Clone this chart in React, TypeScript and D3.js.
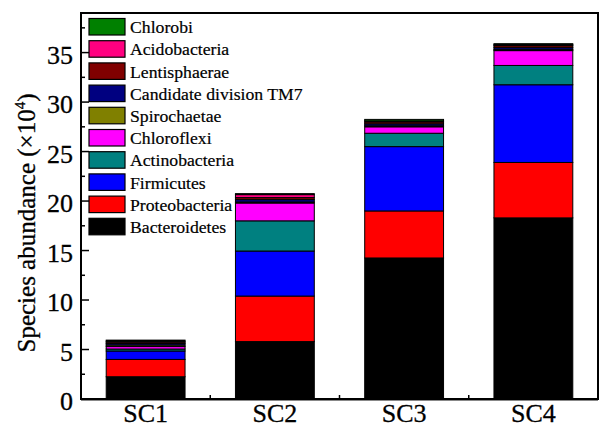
import React from "react";
import * as d3 from "d3";

const categories = ["SC1", "SC2", "SC3", "SC4"];
const seriesNames = [
  "Bacteroidetes",
  "Proteobacteria",
  "Firmicutes",
  "Actinobacteria",
  "Chloroflexi",
  "Spirochaetae",
  "Candidate division TM7",
  "Lentisphaerae",
  "Acidobacteria",
  "Chlorobi",
];
const seriesColors = [
  "#000000",
  "#FF0000",
  "#0000FF",
  "#008080",
  "#FF00FF",
  "#808000",
  "#000080",
  "#800000",
  "#FF0080",
  "#008000",
];
const Bacteroidetes = [2.25, 5.8, 14.25, 18.3];
const Proteobacteria = [1.75, 4.6, 4.75, 5.6];
const Firmicutes = [0.85, 4.55, 6.5, 7.85];
const Actinobacteria = [0.2, 3.05, 1.35, 1.95];
const Chloroflexi = [0.25, 1.8, 0.65, 1.5];
const Spirochaetae = [0.15, 0.1, 0.1, 0.1];
const CandidateTM7 = [0.15, 0.25, 0.2, 0.2];
const Lentisphaerae = [0.15, 0.2, 0.2, 0.2];
const Acidobacteria = [0.1, 0.3, 0.1, 0.1];
const Chlorobi = [0.1, 0.1, 0.15, 0.1];
const seriesValues = [
  Bacteroidetes,
  Proteobacteria,
  Firmicutes,
  Actinobacteria,
  Chloroflexi,
  Spirochaetae,
  CandidateTM7,
  Lentisphaerae,
  Acidobacteria,
  Chlorobi,
];
const yTicks = [0, 5, 10, 15, 20, 25, 30, 35];
const yMinorTicks = [2.5, 7.5, 12.5, 17.5, 22.5, 27.5, 32.5, 37.5];

const W = 600;
const H = 427;
const L = 81;
const R = 598;
const T = 13;
const B = 399;
const FONT = '"Liberation Serif", serif';

export default function App() {
  const x = d3.scaleBand<string>().domain(categories).range([L, R]).paddingInner(0.39).paddingOuter(0.195);
  const y = d3.scaleLinear().domain([0, 39]).range([B, T]);

  const table = categories.map((c, i) => {
    const row: any = { cat: c };
    seriesNames.forEach((s, j) => (row[s] = seriesValues[j][i]));
    return row;
  });
  const stacked = d3.stack<any>().keys(seriesNames)(table);

  const legendOrder = [...seriesNames.keys()].reverse();
  const step = x.step();
  const boundaries = categories.slice(1).map((c) => (x(c) as number) - (step * x.paddingInner()) / 2);
  const textStyle = { fontFamily: FONT };

  return (
    <svg width={W} height={H} style={{ position: "absolute", left: 0, top: 0, background: "#fff", fontFamily: FONT }}>
      <rect x={0} y={0} width={W} height={H} fill="#fff" />
      {stacked.map((layer, j) => (
        <g key={j} fill={seriesColors[j]}>
          {layer.map((d, i) => (
            <rect
              key={i}
              x={x(categories[i]) as number}
              y={y(d[1])}
              width={x.bandwidth()}
              height={Math.max(0, y(d[0]) - y(d[1]))}
              stroke="#000"
              strokeWidth={1}
            />
          ))}
        </g>
      ))}
      {/* frame */}
      <rect x={L} y={T} width={R - L} height={B - T} fill="none" stroke="#000" strokeWidth={2} />
      <line x1={L} x2={R} y1={B + 1.5} y2={B + 1.5} stroke="#888" strokeWidth={1} />
      {/* y ticks */}
      {yTicks.map((t) => (
        <g key={t}>
          <line x1={L} x2={L + 8} y1={y(t)} y2={y(t)} stroke="#000" strokeWidth={1.5} />
          <text x={L - 8} y={y(t)} dy="0.43em" textAnchor="end" fontSize={26} stroke="#000" strokeWidth={0.3} style={textStyle}>
            {t}
          </text>
        </g>
      ))}
      {yMinorTicks.map((t) => (
        <line key={t} x1={L} x2={L + 4} y1={y(t)} y2={y(t)} stroke="#000" strokeWidth={1.5} />
      ))}
      {boundaries.map((b, i) => (
        <line key={i} x1={b} x2={b} y1={B} y2={B - 4} stroke="#000" strokeWidth={1.5} />
      ))}
      {/* x labels */}
      {categories.map((c) => (
        <text key={c} x={(x(c) as number) + x.bandwidth() / 2} y={422} textAnchor="middle" fontSize={26} stroke="#000" strokeWidth={0.3} style={textStyle}>
          {c}
        </text>
      ))}
      {/* y title */}
      <text transform={`translate(35, 223) rotate(-90)`} textAnchor="middle" fontSize={25} stroke="#000" strokeWidth={0.3} style={textStyle}>
        Species abundance (×10
        <tspan dy={-10} fontSize={15}>4</tspan>
        <tspan dy={10}>)</tspan>
      </text>
      {/* legend */}
      {legendOrder.map((j, k) => (
        <g key={j} transform={`translate(89, ${18.5 + k * 22.2})`}>
          <rect x={0} y={0} width={36} height={16.5} fill={seriesColors[j]} stroke="#000" strokeWidth={1.2} />
          <text x={41} y={8.5} dy="0.35em" fontSize={17.7} stroke="#000" strokeWidth={0.2} style={textStyle}>
            {seriesNames[j]}
          </text>
        </g>
      ))}
    </svg>
  );
}
